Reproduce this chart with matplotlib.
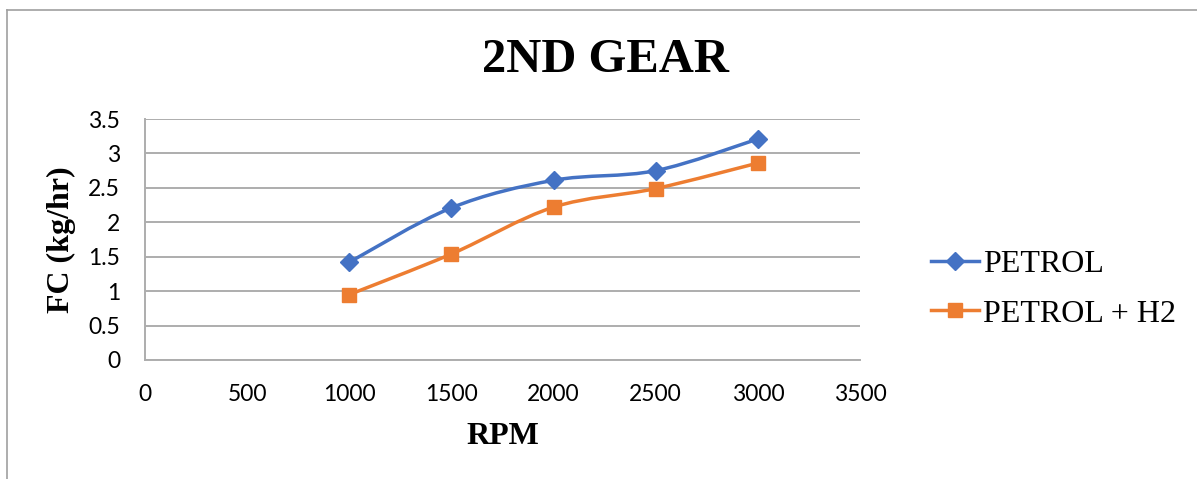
import matplotlib
matplotlib.use("Agg")
import matplotlib.pyplot as plt
from matplotlib.path import Path
from matplotlib.patches import PathPatch
from matplotlib.lines import Line2D

rpm = [1000, 1500, 2000, 2500, 3000]
petrol = [1.42, 2.21, 2.61, 2.75, 3.21]
petrol_h2 = [0.95, 1.54, 2.22, 2.49, 2.86]
series_names = ["PETROL", "PETROL + H2"]
x_ticks = [0, 500, 1000, 1500, 2000, 2500, 3000, 3500]
y_ticks = [0, 0.5, 1, 1.5, 2, 2.5, 3, 3.5]
y_tick_labels = ["0", "0.5", "1", "1.5", "2", "2.5", "3", "3.5"]

BLUE = "#4472C4"
ORANGE = "#ED7D31"
GRID = "#ADADAD"


def smooth_path(xs, ys):
    pts = list(zip(xs, ys))
    verts = [pts[0]]
    codes = [Path.MOVETO]
    n = len(pts)
    for i in range(n - 1):
        p0 = pts[i - 1] if i > 0 else pts[i]
        p1 = pts[i]
        p2 = pts[i + 1]
        p3 = pts[i + 2] if i + 2 < n else pts[i + 1]
        c1 = (p1[0] + (p2[0] - p0[0]) / 6.0, p1[1] + (p2[1] - p0[1]) / 6.0)
        c2 = (p2[0] - (p3[0] - p1[0]) / 6.0, p2[1] - (p3[1] - p1[1]) / 6.0)
        verts += [c1, c2, p2]
        codes += [Path.CURVE4] * 3
    return Path(verts, codes)


W, H = 1197, 479
fig = plt.figure(figsize=(W / 100, H / 100), dpi=100)
ax = fig.add_axes([145 / W, 1 - 360 / H, (860 - 145) / W, (360 - 119) / H])

ax.set_xlim(0, 3500)
ax.set_ylim(0, 3.5)
ax.set_xticks(x_ticks)
ax.set_yticks(y_ticks)
ax.set_yticklabels(y_tick_labels)
ax.tick_params(length=0, labelsize=16.5, colors="#000000")
ax.tick_params(axis="x", pad=17)
ax.tick_params(axis="y", pad=18)
for lab in ax.get_xticklabels() + ax.get_yticklabels():
    lab.set_fontfamily("Lato")
ax.grid(axis="y", color=GRID, linewidth=1.4)
ax.set_axisbelow(True)
for s in ["top", "right"]:
    ax.spines[s].set_visible(False)
for s in ["left", "bottom"]:
    ax.spines[s].set_color(GRID)
    ax.spines[s].set_linewidth(1.4)

for ys, col, mk, ms in [(petrol, BLUE, "D", 9), (petrol_h2, ORANGE, "s", 10.5)]:
    ax.add_patch(PathPatch(smooth_path(rpm, ys), facecolor="none", edgecolor=col,
                           linewidth=2.5, zorder=3, capstyle="round"))
    ax.plot(rpm, ys, linestyle="none", marker=mk, markersize=ms, color=col, zorder=4)

fig.text(606 / W, 1 - 60 / H, "2ND GEAR", ha="center", va="center",
         fontfamily="Liberation Serif", fontweight="bold", fontsize=35)
fig.text(503 / W, 1 - 437 / H, "RPM", ha="center", va="center",
         fontfamily="Liberation Serif", fontweight="bold", fontsize=23)
fig.text(61 / W, 1 - 240 / H, "FC (kg/hr)", ha="center", va="center", rotation=90,
         fontfamily="Liberation Serif", fontweight="bold", fontsize=23)

handles = [Line2D([], [], color=BLUE, marker="D", markersize=9, linewidth=2.5),
           Line2D([], [], color=ORANGE, marker="s", markersize=10.5, linewidth=2.5)]
fig.legend(handles, series_names, loc="center left", bbox_to_anchor=(909 / W, 1 - 289 / H),
           frameon=False, prop={"family": "Liberation Serif", "size": 23},
           handlelength=1.5, handletextpad=0.12, labelspacing=0.64, borderpad=0.2)

# outer chart frame (top and left visible)
fig.add_artist(Line2D([7 / W, 1], [1 - 10 / H, 1 - 10 / H], transform=fig.transFigure,
                      color="#A0A0A0", linewidth=1.2))
fig.add_artist(Line2D([7 / W, 7 / W], [0, 1 - 10 / H], transform=fig.transFigure,
                      color="#A0A0A0", linewidth=1.2))

fig.savefig("out.png", dpi=100, facecolor="white")
